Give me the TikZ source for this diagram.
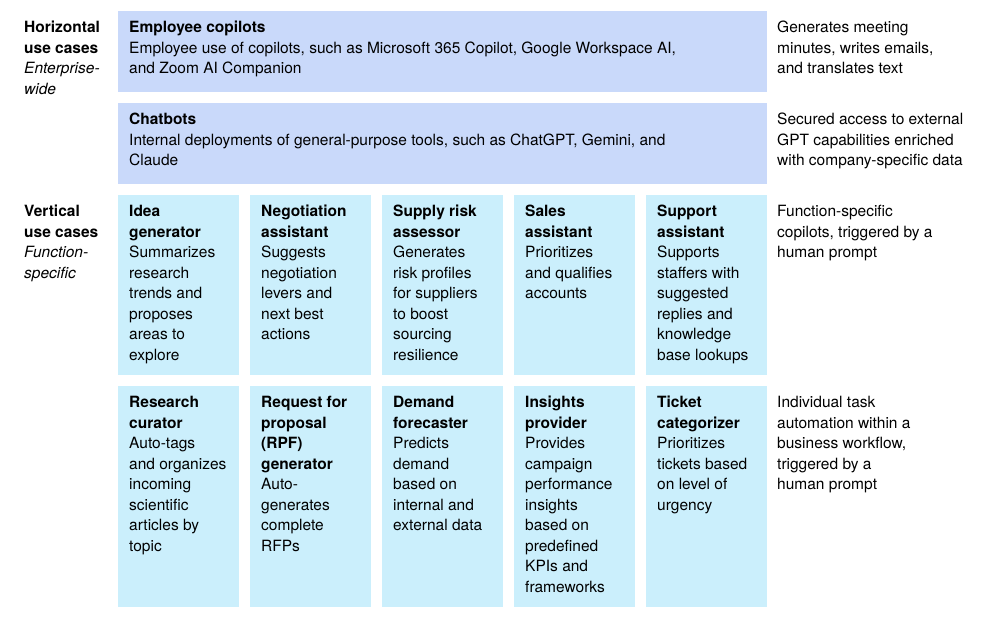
\documentclass[tikz,border=0pt]{standalone}
\usepackage{fontspec}
\setmainfont{TeX Gyre Heros}
\usetikzlibrary{positioning}

\definecolor{horblue}{HTML}{C9D9FA}
\definecolor{vertblue}{HTML}{CBEFFC}

\tikzset{
  wide/.style={fill=horblue, draw=none, minimum width=649pt, minimum height=81pt, anchor=north west},
  cell/.style={fill=vertblue, draw=none, minimum width=121pt, anchor=north west},
  txt/.style={anchor=north west, inner sep=0pt, align=left, font=\fontsize{15.5}{20.5}\selectfont},
}

\begin{document}
\begin{tikzpicture}[x=1pt, y=-1pt]

\useasboundingbox (0,0) rectangle (1002,618);

% horizontal use cases
\node[txt] (hlabel) at (24,21) {\textbf{Horizontal}\\\textbf{use cases}\\\textit{Enterprise-}\\\textit{wide}};
\node[wide] (copilots) at (118,11) {};
\node[txt] (copilotstxt) at (129,21) {\textbf{Employee copilots}\\Employee use of copilots, such as Microsoft 365 Copilot, Google Workspace AI,\\and Zoom AI Companion};
\node[txt] (copilotsnote) at (777,21) {Generates meeting\\minutes, writes emails,\\and translates text};

\node[wide] (chatbots) at (118,103) {};
\node[txt] (chatbotstxt) at (129,113) {\textbf{Chatbots}\\Internal deployments of general-purpose tools, such as ChatGPT, Gemini, and\\Claude};
\node[txt] (chatbotsnote) at (777,113) {Secured access to external\\GPT capabilities enriched\\with company-specific data};

% vertical use cases
\node[txt] (vlabel) at (24,205) {\textbf{Vertical}\\\textbf{use cases}\\\textit{Function-}\\\textit{specific}};

\foreach \i in {0,...,4} {
  \node[cell, minimum height=180pt] (top\i) at (118+132*\i,195) {};
  \node[cell, minimum height=221pt] (bot\i) at (118+132*\i,386) {};
}

\node[txt] (idea) at (129,205) {\textbf{Idea}\\\textbf{generator}\\Summarizes\\research\\trends and\\proposes\\areas to\\explore};
\node[txt] (nego) at (261,205) {\textbf{Negotiation}\\\textbf{assistant}\\Suggests\\negotiation\\levers and\\next best\\actions};
\node[txt] (supply) at (393,205) {\textbf{Supply risk}\\\textbf{assessor}\\Generates\\risk profiles\\for suppliers\\to boost\\sourcing\\resilience};
\node[txt] (sales) at (525,205) {\textbf{Sales}\\\textbf{assistant}\\Prioritizes\\and qualifies\\accounts};
\node[txt] (support) at (657,205) {\textbf{Support}\\\textbf{assistant}\\Supports\\staffers with\\suggested\\replies and\\knowledge\\base lookups};
\node[txt] (topnote) at (777,205) {Function-specific\\copilots, triggered by a\\human prompt};

\node[txt] (curator) at (129,396) {\textbf{Research}\\\textbf{curator}\\Auto-tags\\and organizes\\incoming\\scientific\\articles by\\topic};
\node[txt] (rfp) at (261,396) {\textbf{Request for}\\\textbf{proposal}\\\textbf{(RPF)}\\\textbf{generator}\\Auto-\\generates\\complete\\RFPs};
\node[txt] (demand) at (393,396) {\textbf{Demand}\\\textbf{forecaster}\\Predicts\\demand\\based on\\internal and\\external data};
\node[txt] (insights) at (525,396) {\textbf{Insights}\\\textbf{provider}\\Provides\\campaign\\performance\\insights\\based on\\predefined\\KPIs and\\frameworks};
\node[txt] (ticket) at (657,396) {\textbf{Ticket}\\\textbf{categorizer}\\Prioritizes\\tickets based\\on level of\\urgency};
\node[txt] (botnote) at (777,396) {Individual task\\automation within a\\business workflow,\\triggered by a\\human prompt};

\end{tikzpicture}
\end{document}
